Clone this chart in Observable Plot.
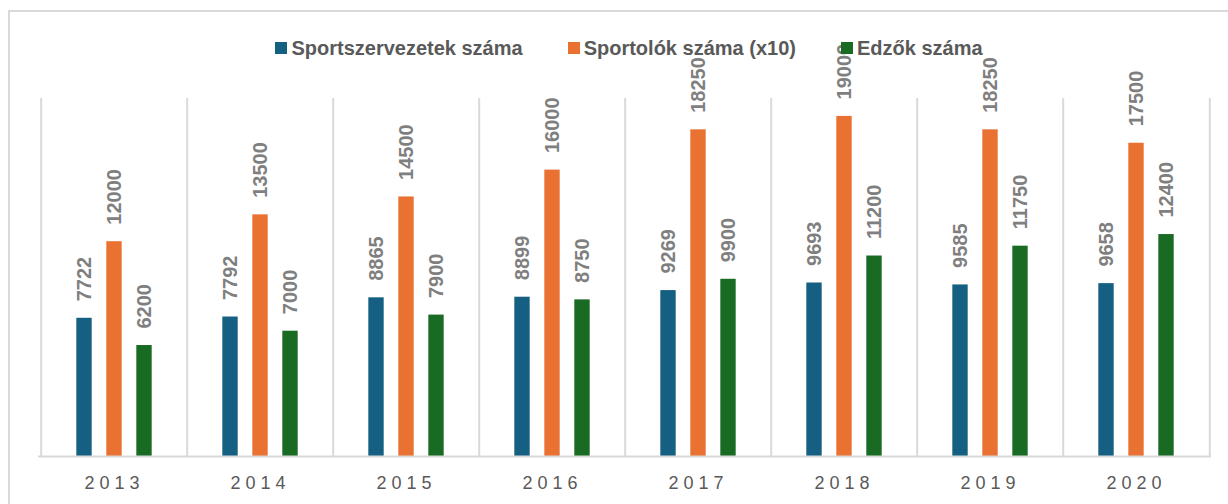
<!DOCTYPE html>
<html><head><meta charset="utf-8">
<script src="https://cdn.jsdelivr.net/npm/d3@7"></script>
<script src="https://cdn.jsdelivr.net/npm/@observablehq/plot@0.6"></script>
<style>
body{margin:0;background:#fff;}
#wrap{position:relative;width:1228px;height:504px;overflow:hidden;font-family:"Liberation Sans",Arial,sans-serif;}
#border{position:absolute;left:8px;top:10px;width:1300px;height:600px;border-left:2px solid #d9d9d9;border-top:2px solid #d9d9d9;}
#chart{position:absolute;left:0;top:0;}
#legend{position:absolute;top:38px;left:0;width:1258px;display:flex;justify-content:center;gap:45px;align-items:center;font-size:20px;font-weight:bold;color:#595959;line-height:20px;}
.item{display:flex;align-items:center;}
.sw{width:12px;height:12px;margin-right:4px;}
.ch [aria-label="x-axis tick label"] text{letter-spacing:5px;}
</style></head>
<body>
<div id="wrap"><div id="border"></div><div id="chart"></div><div id="legend"></div></div>
<script>
const years = ["2013","2014","2015","2016","2017","2018","2019","2020"];
const seriesNames = ["Sportszervezetek száma","Sportolók száma (x10)","Edzők száma"];
const clubs = [7722,7792,8865,8899,9269,9693,9585,9658];
const athletes = [12000,13500,14500,16000,18250,19000,18250,17500];
const coaches = [6200,7000,7900,8750,9900,11200,11750,12400];
const colors = ["#156082","#E97132","#196B24"];

const W=1228,H=504,ML=38,MR=17,MT=98,MB=48;
const bw=(W-ML-MR)/years.length;
const barW=16, step=30;
const seriesVals=[clubs,athletes,coaches];
const rows=[];
seriesVals.forEach((vals,i)=>years.forEach((y,j)=>rows.push({year:y,series:seriesNames[i],idx:i,value:vals[j]})));

const marks=[];
marks.push(Plot.ruleX(years,{x:d=>d,dx:-bw/2,stroke:"#d9d9d9",strokeWidth:2}));
marks.push(Plot.ruleX([years[years.length-1]],{x:d=>d,dx:bw/2,stroke:"#d9d9d9",strokeWidth:2}));
seriesNames.forEach((s,i)=>{
  const d=rows.filter(r=>r.idx===i);
  marks.push(Plot.barY(d,{x:"year",y:"value",fill:"series",insetLeft:(bw-barW)/2,insetRight:(bw-barW)/2,dx:(i-1)*step}));
});
marks.push(Plot.ruleY([0],{stroke:"#d9d9d9",strokeWidth:2}));
seriesNames.forEach((s,i)=>{
  const d=rows.filter(r=>r.idx===i);
  marks.push(Plot.text(d,{x:"year",y:"value",text:r=>String(r.value),rotate:-90,textAnchor:"start",lineAnchor:"middle",dy:-17,dx:(i-1)*step,fontSize:20,fontWeight:"bold",fill:"#7f7f7f"}));
});
marks.push(Plot.axisX({tickSize:0,tickPadding:20,fontSize:18,fill:"#595959"}));

const chart=Plot.plot({
  width:W,height:H,marginLeft:ML,marginRight:MR,marginTop:MT,marginBottom:MB,
  className:"ch",
  style:{fontFamily:"'Liberation Sans',Arial,sans-serif",background:"transparent",overflow:"visible"},
  x:{domain:years,padding:0,label:null},
  y:{domain:[0,20000],axis:null},
  color:{domain:seriesNames,range:colors},
  marks
});
document.getElementById("chart").appendChild(chart);

const lg=document.getElementById("legend");
seriesNames.forEach((s,i)=>{
  const it=document.createElement("div");it.className="item";
  const sw=document.createElement("div");sw.className="sw";sw.style.background=colors[i];
  const t=document.createElement("span");t.textContent=s;
  it.appendChild(sw);it.appendChild(t);lg.appendChild(it);
});
</script>
</body></html>
